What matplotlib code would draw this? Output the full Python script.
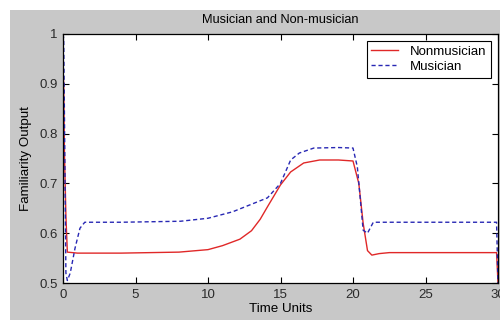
import matplotlib
matplotlib.use("Agg")
import matplotlib.pyplot as plt
from matplotlib.patches import Rectangle

# time points and outputs
t_non = [0.0, 0.05, 0.1, 0.15, 0.2, 0.22, 0.3, 1.0, 4.0, 8.0, 10.0, 11.0, 12.2,
         13.0, 13.6, 14.1, 15.0, 15.7, 16.6, 17.7, 19.0, 20.0, 20.4, 20.7, 21.0,
         21.3, 21.8, 22.5, 26.0, 29.9, 30.0]
y_non = [0.925, 0.90, 0.76, 0.70, 0.635, 0.62, 0.562, 0.56, 0.56, 0.562,
         0.567, 0.575, 0.588, 0.605, 0.628, 0.653, 0.697, 0.723, 0.741, 0.747,
         0.747, 0.745, 0.70, 0.62, 0.565, 0.556, 0.559, 0.561, 0.561, 0.561, 0.50]

t_mus = [0.0, 0.05, 0.2, 0.3, 0.5, 0.83, 1.17, 1.5, 4.0, 8.1, 10.0, 11.7,
         12.9, 14.1, 15.0, 15.7, 16.3, 17.3, 19.0, 20.0, 20.3, 20.7, 21.0,
         21.4, 25.0, 29.9, 30.0]
y_mus = [1.0, 0.99, 0.52, 0.505, 0.52, 0.57, 0.61, 0.622, 0.622, 0.624,
         0.63, 0.643, 0.657, 0.671, 0.70, 0.747, 0.761, 0.771, 0.772, 0.771,
         0.733, 0.606, 0.60, 0.622, 0.622, 0.622, 0.50]

xticks = [0, 5, 10, 15, 20, 25, 30]
yticks = [0.5, 0.6, 0.7, 0.8, 0.9, 1.0]
ylabels = ["0.5", "0.6", "0.7", "0.8", "0.9", "1"]

plt.rcParams['font.family'] = ['Liberation Sans', 'DejaVu Sans']
plt.rcParams['font.size'] = 9

fig = plt.figure(figsize=(5, 3.2), dpi=100, facecolor="white")
# matlab-style grey window, slightly offset from the top left
fig.patches.append(Rectangle((10 / 500, 0), 490 / 500, 310 / 320,
                             transform=fig.transFigure, facecolor="#c8c8c8",
                             edgecolor="none", zorder=-10))

ax = fig.add_axes([63 / 500, 37 / 320, 435 / 500, 249 / 320])
ax.plot(t_non, y_non, color="#e02828", lw=1.0, label="Nonmusician")
ax.plot(t_mus, y_mus, color="#2828b4", lw=1.0, ls=(0, (3, 2)), label="Musician")

ax.set_xlim(0, 30)
ax.set_ylim(0.5, 1)
ax.set_xticks(xticks)
ax.set_yticks(yticks)
ax.set_yticklabels(ylabels)
ax.tick_params(direction="in", top=True, right=True, length=4, width=0.8,
               labelsize=9.5, pad=4, colors="black", labelcolor="#2a2a2a")
for s in ax.spines.values():
    s.set_linewidth(0.9)

ax.set_title("Musician and Non-musician", fontsize=9.2, pad=8)
ax.set_xlabel("Time Units", fontsize=9.6, labelpad=2)
ax.set_ylabel("Familiarity Output", fontsize=9.6, labelpad=5)

leg = ax.legend(loc="upper right", fancybox=False, framealpha=1,
                edgecolor="black", fontsize=9.5, handlelength=2.0,
                handletextpad=0.9, borderpad=0.35, labelspacing=0.2,
                borderaxespad=0.55)
leg.get_frame().set_linewidth(0.8)

fig.savefig("out.png", dpi=100, facecolor=fig.get_facecolor())
